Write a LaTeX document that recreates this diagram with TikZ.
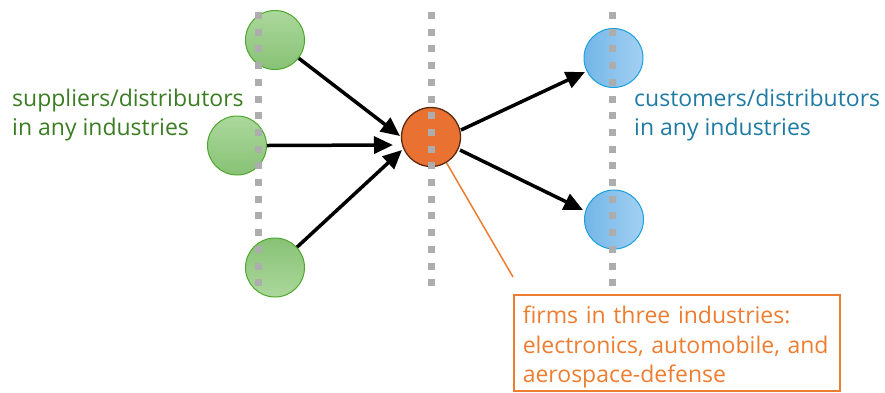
\documentclass[tikz,border=0pt]{standalone}
\usepackage{fontspec}
\setmainfont{Open Sans}
\usetikzlibrary{arrows.meta}
\definecolor{gborder}{HTML}{4EA72E}
\definecolor{gtext}{HTML}{3B7D23}
\definecolor{gtop}{HTML}{ABD89C}
\definecolor{gbot}{HTML}{88C275}
\definecolor{bborder}{HTML}{1AA0DC}
\definecolor{btext}{HTML}{1F7BA3}
\definecolor{blight}{HTML}{A3D0F2}
\definecolor{bdark}{HTML}{73B6E8}
\definecolor{ofill}{HTML}{E97132}
\definecolor{oborder}{HTML}{5A2A10}
\definecolor{oline}{HTML}{ED7D31}
\definecolor{dotgray}{HTML}{ADADAD}
\tikzset{
  gnode/.style={circle, draw=gborder, line width=1pt, minimum size=59pt, inner sep=0pt},
  bnode/.style={circle, draw=bborder, line width=1pt, minimum size=59pt, inner sep=0pt, left color=bdark, right color=blight},
  onode/.style={circle, draw=oborder, fill=ofill, line width=1.3pt, minimum size=59pt, inner sep=0pt},
  dotline/.style={draw=dotgray, line width=7pt, dash pattern=on 7pt off 9.7pt},
  flow/.style={line width=3.5pt, -{Triangle[length=19pt,width=17pt]}},
  lbl/.style={font=\fontsize{23}{29.5}\selectfont, align=left, inner sep=0pt}
}
\begin{document}
\begin{tikzpicture}[x=1pt,y=-1pt]
\useasboundingbox (0,0) rectangle (885,392);
% nodes
\node[gnode, top color=gtop, bottom color=gbot] (g1) at (275,40) {};
\node[gnode, top color=gtop, bottom color=gbot] (g2) at (237,145.5) {};
\node[gnode, top color=gbot, bottom color=gtop] (g3) at (275,267.5) {};
\node[onode] (o) at (431,137) {};
\node[bnode] (b1) at (613.5,58) {};
\node[bnode] (b2) at (614,219.5) {};
% dotted guides
\coordinate (d1t) at (258,12); \coordinate (d1b) at (258,290);
\coordinate (d2t) at (431,12); \coordinate (d2b) at (431,290);
\coordinate (d3t) at (612,12); \coordinate (d3b) at (612,290);
\draw[dotline] (d1t) -- (d1b);
\draw[dotline] (d2t) -- (d2b);
\draw[dotline] (d3t) -- (d3b);
% arrows
\draw[flow] (g1) -- ([shift={(-31,-1)}]o.center);
\draw[flow] (g2.east) -- ([shift={(-38,8)}]o.center);
\draw[flow] (g3) -- ([shift={(-29,13)}]o.center);
\draw[flow] ([shift={(30,-7)}]o.center) -- ([shift={(-28.5,14)}]b1.center);
\draw[flow] ([shift={(29,13)}]o.center) -- ([shift={(-31,-9.5)}]b2.center);
% labels
\node[lbl, text=gtext, anchor=base west] (gl) at (12,135.5) {suppliers/distributors\\in any industries};
\node[lbl, text=btext, anchor=base west] (bl) at (634,135.5) {customers/distributors\\in any industries};
\node[draw=oline, line width=1.5pt, text=oline, font=\fontsize{23}{29.5}\selectfont, align=left,
      minimum width=325pt, minimum height=96pt, text width=308pt, inner xsep=9pt, inner ysep=0pt, anchor=north west] (box) at (513,294)
      {\rule{0pt}{26.5pt}firms in three industries:\\electronics, automobile, and\\aerospace-defense};
\draw[oline, line width=1.5pt] (o.-59) -- ([yshift=17]box.north west);
\end{tikzpicture}
\end{document}
